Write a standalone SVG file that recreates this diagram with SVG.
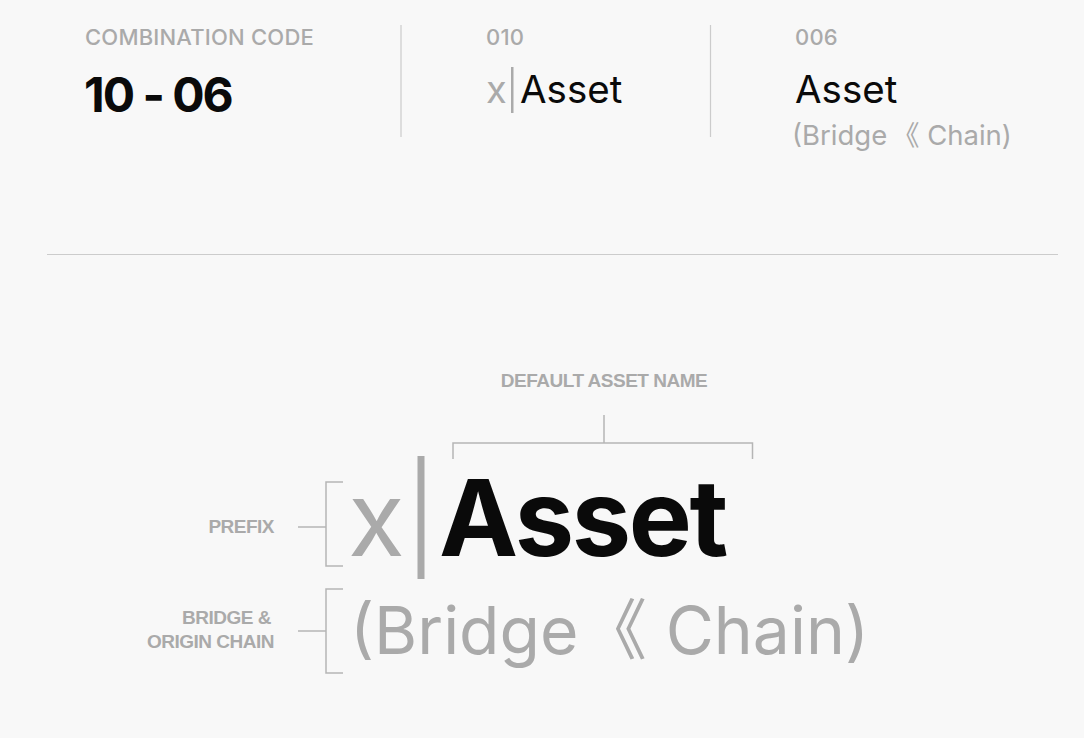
<svg xmlns="http://www.w3.org/2000/svg" width="1084" height="738" viewBox="0 0 1084 738">
<style>
text{font-family:Inter,"Noto Sans","Noto Sans CJK SC",sans-serif}
.cap{font-size:22px;font-weight:500;fill:#aaaaaa;letter-spacing:0.2px}
.lbl{font-family:"Liberation Sans",Arial,sans-serif;font-size:19px;font-weight:700;fill:#aaaaaa;letter-spacing:-0.5px}
.gray{fill:#aaaaaa}
.blk{fill:#0a0a0a}
.rule{stroke:#cccccc;stroke-width:1.2;fill:none}
.br{stroke:#b5b5b5;stroke-width:1.5;fill:none}
</style>
<rect width="1084" height="738" fill="#f8f8f8"/>
<g id="combination-code">
<text class="cap" x="85" y="45">COMBINATION CODE</text>
<text class="blk" x="84" y="112" font-size="48" font-weight="700" letter-spacing="-2">10 - 06</text>
</g>
<g id="prefix-010">
<text class="cap" x="486" y="45">010</text>
<text class="gray" x="486" y="103" font-size="38">x</text>
<rect x="511" y="67" width="2.5" height="46" fill="#aaaaaa"/>
<text class="blk" x="520" y="103" font-size="38.5">Asset</text>
</g>
<g id="name-006">
<text class="cap" x="795" y="45">006</text>
<text class="blk" x="795" y="103" font-size="38.5">Asset</text>
<text class="gray" x="792" y="145" font-size="27.5">(Bridge<tspan word-spacing="-3"> 《</tspan> Chain)</text>
</g>
<g id="dividers">
<line class="rule" x1="401" y1="25" x2="401" y2="137"/>
<line class="rule" x1="710.5" y1="25" x2="710.5" y2="137"/>
<line class="rule" x1="47" y1="254.5" x2="1058" y2="254.5"/>
</g>
<g id="big-name">
<text class="gray" x="348" y="556" font-size="104">x</text>
<rect x="417.5" y="456" width="7" height="123" fill="#aaaaaa"/>
<text class="blk" x="439" y="556" font-size="106" font-weight="700" letter-spacing="-2.3">Asset</text>
<text class="gray" x="350" y="654" font-size="66">(Bridge<tspan word-spacing="-16"> 《</tspan> Chain)</text>
</g>
<g id="label-default">
<text class="lbl" x="604" y="387" text-anchor="middle">DEFAULT ASSET NAME</text>
</g>
<g id="label-prefix">
<text class="lbl" x="274" y="533" text-anchor="end">PREFIX</text>
</g>
<g id="label-bridge">
<text class="lbl" x="271" y="624" text-anchor="end">BRIDGE &amp;</text>
<text class="lbl" x="274" y="648" text-anchor="end">ORIGIN CHAIN</text>
</g>
<g id="connectors">
<path class="br" d="M604 415V443M453 459V443H752.5V459"/>
<path class="br" d="M298 527H326M343 482H326V566H343"/>
<path class="br" d="M298 631H326M343 589H326V673H343"/>
</g>
</svg>
